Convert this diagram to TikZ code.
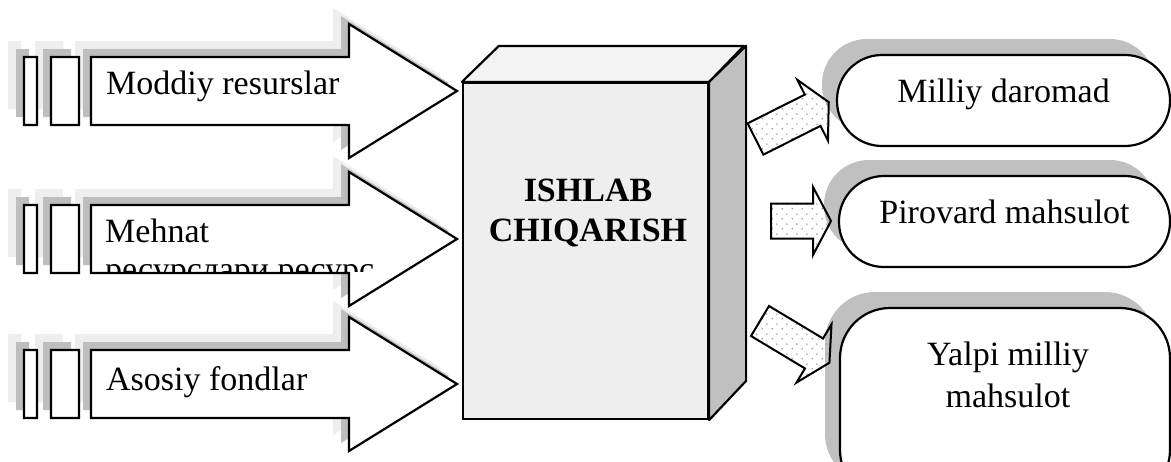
\documentclass[tikz,border=0pt]{standalone}
\usepackage{fontspec}
\setmainfont{Liberation Serif}
\usepackage{tikz}
\usetikzlibrary{positioning,shadows,patterns}
\definecolor{shadowdark}{RGB}{190,190,190}
\definecolor{shadowlight}{RGB}{238,238,238}
\definecolor{boxfront}{RGB}{238,238,238}
\definecolor{boxtop}{RGB}{243,243,243}
\definecolor{boxside}{RGB}{192,192,192}
\definecolor{dotgray}{RGB}{160,160,160}
\pgfdeclarepatternformonly{sparsedots}{\pgfqpoint{0pt}{0pt}}{\pgfqpoint{10pt}{10pt}}{\pgfqpoint{10pt}{10pt}}{%
  \pgfpathcircle{\pgfqpoint{2.5pt}{2.5pt}}{1pt}
  \pgfpathcircle{\pgfqpoint{7.5pt}{7.5pt}}{1pt}
  \pgfusepath{fill}}
\tikzstyle{outline} = [draw=black, line width=2.2pt, fill=white]
\tikzstyle{capsule} = [outline, rounded corners=45pt, minimum height=91pt, inner sep=0pt, font=\fontsize{34}{38}\selectfont, text height=24pt, text depth=20pt, drop shadow={shadow xshift=-15pt, shadow yshift=16pt, fill=boxside, opacity=1}]
\tikzstyle{dotarrow} = [draw=black, line width=2pt, preaction={fill=white}, pattern=sparsedots, pattern color=dotgray]
\tikzstyle{lbl} = [inner sep=0pt, font=\fontsize{34}{38}\selectfont]
\tikzstyle{boldlbl} = [inner sep=0pt, font=\fontsize{34}{40}\selectfont\bfseries, align=center]
\tikzset{
  stripearrow/.pic={\path[pic actions] (24,-34) rectangle (37,34) (51,-34) rectangle (79,34)
    (91,-34) -- (349,-34) -- (349,-67) -- (457,0) -- (349,67) -- (349,34) -- (91,34) -- cycle;},
  outarrow/.pic={\path[pic actions] (0,-17.5) -- ({#1-18},-17.5) -- ({#1-18},-34) -- (#1,0)
    -- ({#1-18},34) -- ({#1-18},17.5) -- (0,17.5) -- cycle;}
}

\begin{document}
\begin{tikzpicture}[x=1pt, y=-1pt]
\useasboundingbox (0,0) rectangle (1171,461);
\fill[white] (0,0) rectangle (1171,461);

% striped input arrows with two shadow layers
\foreach \off/\col in {16/shadowlight, 8/shadowdark}
  \foreach \cy in {91,239,384}
    \pic[fill=\col] at (-\off,{\cy-\off}) {stripearrow};
\foreach \cy in {91,239,384}
  \pic[outline] at (0,\cy) {stripearrow};

\node[lbl, anchor=base west] (moddiy) at (106,94) {Moddiy resurslar};
\begin{scope}
  \clip (92,200) rectangle (440,271.5);
  \node[lbl, align=left, anchor=north west] (mehnat) at (105,219) {Mehnat\\ресурслари ресурс};
\end{scope}
\node[lbl, anchor=base west] (asosiy) at (106,390) {Asosiy fondlar};

% production box
\node[draw, line width=2.2pt, fill=boxfront, minimum width=245pt, minimum height=336pt, inner sep=0pt] (prod) at (585.5,251) {};
\draw[line width=2.2pt, fill=boxtop, line join=round] (prod.north west) -- ++(37,-36) -- ++(245,0) -- (prod.north east) -- cycle;
\draw[line width=2.2pt, fill=boxside, line join=round] (prod.north east) -- ++(37,-36) -- ++(0,335) -- (prod.south east) -- cycle;
\node[boldlbl] (prodtxt) at (588,213) {ISHLAB\\CHIQARISH};

% results
\node[capsule, minimum width=333pt] (milliy) at (1003.5,100.5) {Milliy daromad};
\node[capsule, minimum width=331pt] (pirovard) at (1004.5,221.5) {Pirovard mahsulot};
\node[capsule, rounded corners=50pt, minimum width=330pt, minimum height=192pt] (yalpi) at (1005,404) {};
\node[lbl, align=center, font=\fontsize{34}{42}\selectfont] (yalpitxt) at (1008,374.5) {Yalpi milliy\\mahsulot};

% dotted output arrows
\pic[dotarrow, rotate=26.7] at (755.5,139) {outarrow=82};
\pic[dotarrow] at (771,221) {outarrow=60};
\pic[dotarrow, rotate=-31] at (760,321) {outarrow=81};
\end{tikzpicture}
\end{document}
